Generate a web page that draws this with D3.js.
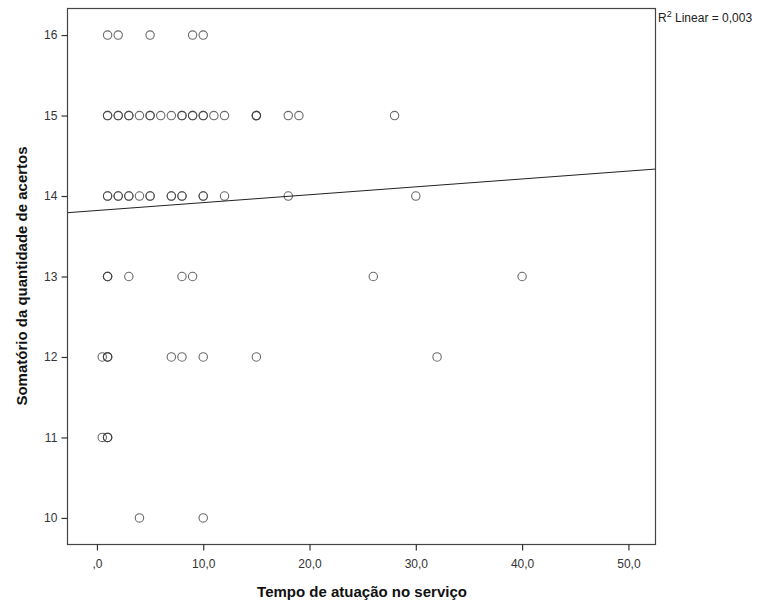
<!DOCTYPE html>
<html>
<head>
<meta charset="utf-8">
<script src="https://cdn.jsdelivr.net/npm/d3@7"></script>
<style>
    body { margin: 0; background: #fff; }
    svg text { font-family: Arial, "Liberation Sans", sans-serif; }
</style>
</head>
<body>
<svg id="chart" width="767" height="606"></svg>
<script>
// points per row of y (somatório); repeated x values = overlapping cases
const row16 = [1, 2, 5, 9, 10];
const row15 = [1, 1, 2, 2, 3, 3, 4, 5, 5, 6, 7, 8, 8, 9, 9, 10, 10, 11, 12, 15, 15, 15, 18, 19, 28];
const row14 = [1, 1, 2, 2, 3, 3, 4, 5, 5, 7, 7, 8, 8, 10, 10, 12, 18, 30];
const row13 = [1, 1, 1, 3, 8, 9, 26, 40];
const row12 = [0.5, 1, 1, 1, 7, 8, 10, 15, 32];
const row11 = [0.5, 1, 1, 1];
const row10 = [4, 10];
const rows = [[16, row16], [15, row15], [14, row14], [13, row13], [12, row12], [11, row11], [10, row10]];

const x_ticks = [0, 10, 20, 30, 40, 50];
const y_ticks = [10, 11, 12, 13, 14, 15, 16];
const fit = { intercept: 13.82, slope: 0.0098 }; // linear fit, R2 = 0,003

var g_svg = d3.select("#chart");
var g_left = 67.5, g_right = 655.5, g_top = 8.5, g_bottom = 544.5;

// scales
var xs = d3.scaleLinear().domain([-2.77, 52.55]).range([g_left, g_right]);
var ys = d3.scaleLinear().domain([9.67, 16.33]).range([g_bottom, g_top]);

// points
var pts = [];
rows.forEach(function (r) { r[1].forEach(function (v) { pts.push({ x: v, y: r[0] }); }); });
g_svg.append("g").selectAll("circle").data(pts).join("circle")
    .attr("cx", d => xs(d.x)).attr("cy", d => ys(d.y)).attr("r", 4.2)
    .attr("fill", "none").attr("stroke", "#444").attr("stroke-width", 1.1).attr("stroke-opacity", 0.8);

// fit line
var xd = xs.domain();
g_svg.append("line")
    .attr("x1", xs(xd[0])).attr("y1", ys(fit.intercept + fit.slope * xd[0]))
    .attr("x2", xs(xd[1])).attr("y2", ys(fit.intercept + fit.slope * xd[1]))
    .attr("stroke", "#222").attr("stroke-width", 1);

// frame
g_svg.append("rect").attr("x", g_left).attr("y", g_top)
    .attr("width", g_right - g_left).attr("height", g_bottom - g_top)
    .attr("fill", "none").attr("stroke", "#444").attr("stroke-width", 1.2);

// axes
var fmt_x = d => d === 0 ? ",0" : d.toFixed(1).replace(".", ",");
var gx = g_svg.append("g").attr("transform", "translate(0," + g_bottom + ")")
    .call(d3.axisBottom(xs).tickValues(x_ticks).tickFormat(fmt_x).tickSize(6).tickSizeOuter(0));
var gy = g_svg.append("g").attr("transform", "translate(" + g_left + ",0)")
    .call(d3.axisLeft(ys).tickValues(y_ticks).tickFormat(d3.format("d")).tickSize(6).tickSizeOuter(0));
[gx, gy].forEach(function (g) {
    g.select(".domain").remove();
    g.selectAll(".tick line").attr("stroke", "#333").attr("stroke-width", 1.2);
    g.selectAll(".tick text").attr("fill", "#333").style("font-size", "12px");
});
gx.selectAll(".tick text").attr("dy", "1.2em");
gy.selectAll(".tick text").attr("dx", "-0.1em");

// titles
g_svg.append("text").attr("x", 362).attr("y", 597).attr("text-anchor", "middle")
    .style("font-size", "15px").style("font-weight", "bold").attr("fill", "#111")
    .text("Tempo de atuação no serviço");
g_svg.append("text").attr("transform", "translate(27,276) rotate(-90)").attr("text-anchor", "middle")
    .style("font-size", "15px").style("font-weight", "bold").attr("fill", "#111")
    .text("Somatório da quantidade de acertos");

// R2 label
var r2 = g_svg.append("text").attr("x", 658).attr("y", 22).style("font-size", "12px").attr("fill", "#222");
r2.append("tspan").text("R");
r2.append("tspan").attr("dy", -5).style("font-size", "9px").text("2");
r2.append("tspan").attr("dy", 5).text(" Linear = 0,003");
</script>
</body>
</html>
